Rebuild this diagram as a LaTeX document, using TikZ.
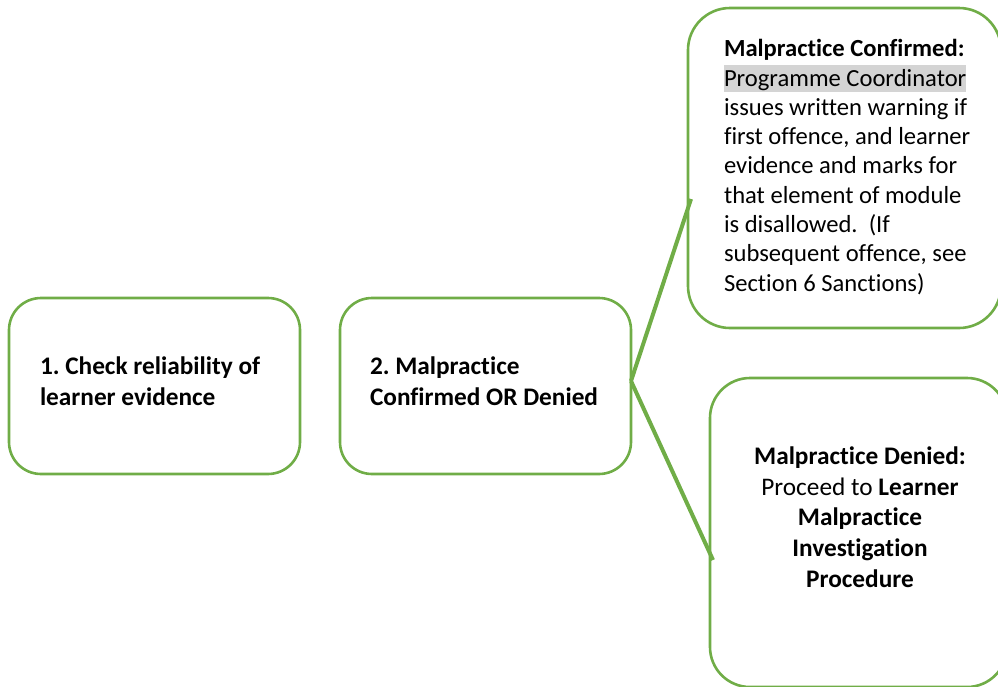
\documentclass[tikz,border=0pt]{standalone}
\usepackage{fontspec}
\setmainfont{Carlito}[Ligatures=NoCommon]
\frenchspacing
\definecolor{boxgreen}{HTML}{70AD47}
\definecolor{hlgray}{HTML}{D4D4D4}
\newcommand\hlbox[1]{{\setlength\fboxsep{0pt}\colorbox{hlgray}{\rule[-6pt]{0pt}{27pt}#1}}}
\tikzset{
  box/.style={draw=boxgreen, line width=2.6pt, inner sep=0pt, outer sep=0pt},
  conn/.style={draw=boxgreen, line width=4pt},
  txt/.style={inner sep=0pt, outer sep=0pt, text=black},
}
\begin{document}
\begin{tikzpicture}[x=1pt,y=-1pt]
\useasboundingbox (0,0) rectangle (998,686);
\clip (0,0) rectangle (998,686);
% boxes
\node[box, rounded corners=32pt, minimum width=291pt, minimum height=176pt] (b1) at (154.5,386) {};
\node[box, rounded corners=32pt, minimum width=291pt, minimum height=176pt] (b2) at (485.5,386) {};
\node[box, rounded corners=42pt, minimum width=313pt, minimum height=320pt] (b3) at (844.5,168) {};
\node[box, rounded corners=40pt, minimum width=297pt, minimum height=309pt] (b4) at (858.5,532.5) {};
% connector end points
\coordinate (c3) at (691,199);
\coordinate (c4) at (713,560);
\draw[conn] ([yshift=5pt]b2.east) -- (c3);
\draw[conn] ([yshift=5pt]b2.east) -- (c4);
% texts
\node[txt, anchor=west, align=left, font=\fontsize{25.3}{31}\selectfont\bfseries] (t1) at (40,381)
  {1. Check reliability of\\learner evidence};
\node[txt, anchor=west, align=left, font=\fontsize{25.3}{31}\selectfont\bfseries] (t2) at (370,381)
  {2. Malpractice\\Confirmed OR Denied};
\node[txt, anchor=west, align=left, font=\fontsize{24.6}{29.3}\selectfont] (t3) at (724,167)
  {\textbf{Malpractice Confirmed:}\\
   \hlbox{Programme Coordinator}\\
   issues written warning if\\
   first offence, and learner\\
   evidence and marks for\\
   that element of module\\
   is disallowed.\ \ (If\\
   subsequent offence, see\\
   Section 6 Sanctions)};
\node[txt, align=center, font=\fontsize{25.3}{30.75}\selectfont] (t4) at (860,517)
  {\textbf{Malpractice Denied:}\\
   Proceed to \textbf{Learner}\\
   \textbf{Malpractice}\\
   \textbf{Investigation}\\
   \textbf{Procedure}};
\end{tikzpicture}
\end{document}
